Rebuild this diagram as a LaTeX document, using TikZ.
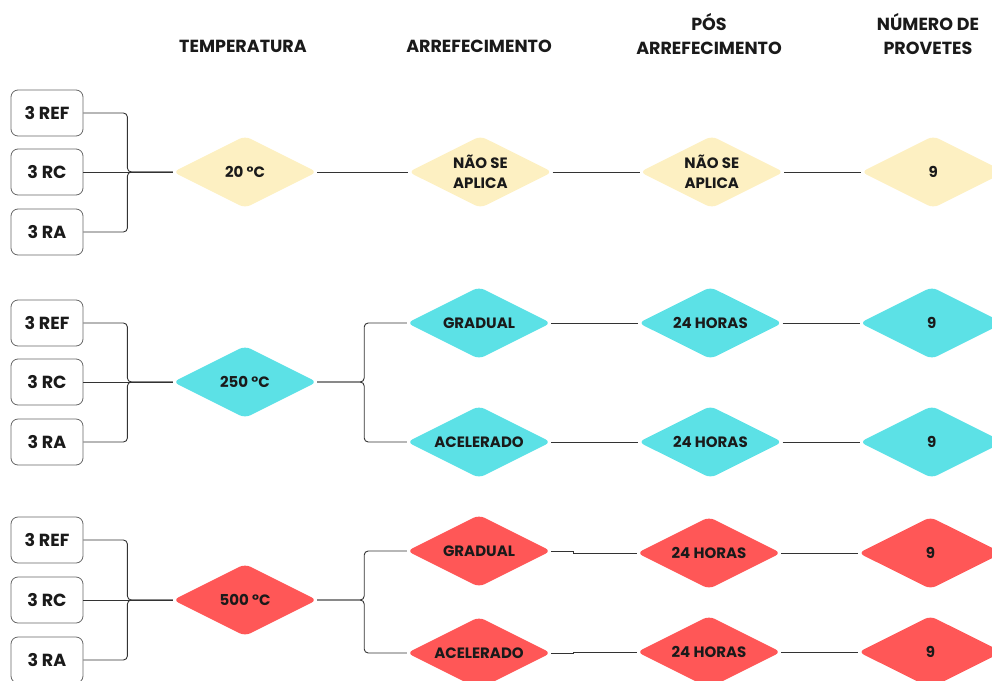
\documentclass[tikz,border=0pt]{standalone}
\usepackage{fontspec}
\setmainfont{Poppins}
\usetikzlibrary{positioning,shapes.geometric}

\definecolor{amarelo}{HTML}{FDF0C2}
\definecolor{ciano}{HTML}{5CE1E6}
\definecolor{vermelho}{HTML}{FF5757}
\definecolor{tinta}{HTML}{1A1A1A}

\tikzset{
  amostra/.style={draw=black!60, rounded corners=7pt, line width=0.8pt,
    minimum width=72pt, minimum height=46pt, inner sep=0pt, text=tinta,
    font=\bfseries\fontsize{17.5}{17.5}\selectfont},
  losango/.style={diamond, aspect=2, minimum width=144pt, minimum height=72pt,
    inner sep=0pt, rounded corners=6pt, align=center, text=tinta,
    font=\bfseries\fontsize{15}{20}\selectfont},
  titulo/.style={align=center, text=tinta, font=\bfseries\fontsize{17.5}{24}\selectfont},
  ligacao/.style={draw=black!80, line width=0.9pt, rounded corners=4pt},
}

\begin{document}
\begin{tikzpicture}[x=1pt, y=-1pt]
  \clip (0,0) rectangle (992,680);

  % cabecalhos
  \node[titulo] (hT) at (243,46) {TEMPERATURA};
  \node[titulo] (hA) at (479,46) {ARREFECIMENTO};
  \node[titulo] (hP) at (709,34) {PÓS\\ARREFECIMENTO};
  \node[titulo] (hN) at (928,34) {NÚMERO DE\\PROVETES};

  % 20 graus
  \node[amostra] (ref1) at (47,113) {3 REF};
  \node[amostra] (rc1) at (47,172) {3 RC};
  \node[amostra] (ra1) at (47,232) {3 RA};
  \node[losango, fill=amarelo] (t1) at (245,172) {20 °C};
  \node[losango, fill=amarelo, right=91pt of t1] (n1) {NÃO SE\\APLICA};
  \node[losango, fill=amarelo, right=87pt of n1] (p1) {NÃO SE\\APLICA};
  \node[losango, fill=amarelo, right=77pt of p1] (q1) {9};

  % 250 graus
  \node[amostra] (ref2) at (47,323) {3 REF};
  \node[amostra] (rc2) at (47,382) {3 RC};
  \node[amostra] (ra2) at (47,442) {3 RA};
  \node[losango, fill=ciano] (t2) at (245,382) {250 °C};
  \node[losango, fill=ciano] (g2) at (479,323) {GRADUAL};
  \node[losango, fill=ciano, right=87pt of g2] (h2) {24 HORAS};
  \node[losango, fill=ciano, right=77pt of h2] (q2) {9};
  \node[losango, fill=ciano] (a2) at (479,442) {ACELERADO};
  \node[losango, fill=ciano, right=87pt of a2] (k2) {24 HORAS};
  \node[losango, fill=ciano, right=77pt of k2] (w2) {9};

  % 500 graus
  \node[amostra] (ref3) at (47,540) {3 REF};
  \node[amostra] (rc3) at (47,600) {3 RC};
  \node[amostra] (ra3) at (47,660) {3 RA};
  \node[losango, fill=vermelho] (t3) at (245,600) {500 °C};
  \node[losango, fill=vermelho] (g3) at (479,551) {GRADUAL};
  \node[losango, fill=vermelho] (h3) at (709,553) {24 HORAS};
  \node[losango, fill=vermelho, right=77pt of h3] (q3) {9};
  \node[losango, fill=vermelho] (a3) at (479,653) {ACELERADO};
  \node[losango, fill=vermelho] (k3) at (709,652) {24 HORAS};
  \node[losango, fill=vermelho, right=77pt of k3] (w3) {9};

  % chavetas e ligacoes
  \foreach \i in {1,2,3} {
    \draw[ligacao] (ref\i.east) -- ++(44,0) |- (t\i.west);
    \draw[ligacao] (ra\i.east) -- ++(44,0) |- (t\i.west);
    \draw[ligacao] (rc\i.east) -- (t\i.west);
  }
  \draw[ligacao] (t1) -- (n1) -- (p1) -- (q1);
  \foreach \i in {2,3} {
    \draw[ligacao] (t\i.east) -- ++(47,0) |- (g\i.west);
    \draw[ligacao] (t\i.east) -- ++(47,0) |- (a\i.west);
  }
  \draw[ligacao] (g2) -- (h2) -- (q2);
  \draw[ligacao] (a2) -- (k2) -- (w2);
  \draw[ligacao, rounded corners=0pt] (g3.east) -- ++(22,0) |- (h3.west);
  \draw[ligacao] (h3) -- (q3);
  \draw[ligacao, rounded corners=0pt] (a3.east) -- ++(22,0) |- (k3.west);
  \draw[ligacao] (k3) -- (w3);
\end{tikzpicture}
\end{document}
